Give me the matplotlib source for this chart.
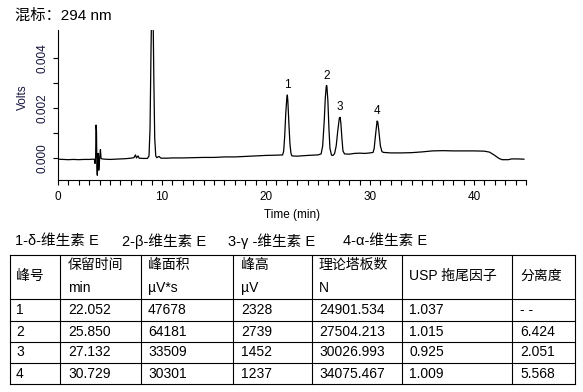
import numpy as np
import matplotlib
matplotlib.use('Agg')
import matplotlib.pyplot as plt
from matplotlib.ticker import MultipleLocator, FixedLocator

plt.rcParams['font.family'] = ['Liberation Sans', 'Noto Sans CJK SC', 'DejaVu Sans']

# ── 色谱数据 ──────────────────────────────────────────────────────
time_min = [
    0.0, 0.5, 1.0, 1.5, 2.0, 2.5, 3.0, 3.4,
    3.50, 3.56, 3.62, 3.66, 3.70, 3.74, 3.78, 3.82, 3.86, 3.92, 3.97, 4.02, 4.08, 4.14, 4.25,
    4.5, 5.0, 5.5, 6.0, 6.5, 7.0, 7.3, 7.45, 7.55, 7.7, 7.8, 8.2, 8.6,
    8.75, 8.85, 8.95, 9.0, 9.07, 9.15, 9.22, 9.3, 9.4, 9.5, 9.7, 9.9,
    10.5, 11, 12, 13, 14, 15, 16, 17, 18, 19, 20, 21, 21.6,
    21.7, 21.8, 21.9, 22.0, 22.05, 22.1, 22.2, 22.3, 22.4, 22.5,
    23, 24, 25, 25.3,
    25.45, 25.6, 25.7, 25.8, 25.85, 25.95, 26.05, 26.15, 26.3, 26.45,
    26.6, 26.75, 26.9, 27.05, 27.13, 27.2, 27.3, 27.4, 27.55,
    28, 28.5, 29, 29.5, 30, 30.3,
    30.4, 30.55, 30.68, 30.75, 30.85, 31.0, 31.15, 31.3,
    32, 33, 34, 35, 36, 37, 38, 39, 40, 41, 41.5, 42, 42.4, 42.7,
    43.3, 43.6, 44.2, 44.8,
]
volts = [
    -0.00003, -0.00004, -0.00005, -0.00004, -0.00005, -0.00004, -0.00004, -0.00003,
    -0.00004, -0.0002, 0.0001, 0.00133, 0.0011, -0.0003, -0.00067, 0.0001, 0.0002, -0.00047, -0.0002, 0.0001, 0.00035, 0.0, -0.00002,
    -0.00003, -0.00004, -0.00003, -0.00002, -0.00001, 0.00001, 0.00003, 0.00014, 0.00002, 0.0001, 0.00001, 0.0, 0.0,
    0.0001, 0.0012, 0.0045, 0.0058, 0.0065, 0.0055, 0.003, 0.0008, 0.0001, 0.00003, 0.00008, 0.00001,
    0.00001, 0.00002, 0.00002, 0.00003, 0.00004, 0.00004, 0.00006, 0.00006, 0.00008, 0.0001, 0.00012, 0.00013, 0.00014,
    0.0003, 0.0009, 0.0018, 0.0024, 0.00253, 0.0023, 0.0014, 0.0006, 0.0002, 0.0001,
    0.00009, 0.00012, 0.00014, 0.00018,
    0.0005, 0.0015, 0.0024, 0.0029, 0.0029, 0.0023, 0.0012, 0.0004, 0.00013, 0.00012,
    0.0002, 0.0005, 0.0011, 0.0016, 0.00164, 0.0014, 0.0008, 0.0003, 0.00018,
    0.00017, 0.0002, 0.00021, 0.0002, 0.00022, 0.00024,
    0.0004, 0.001, 0.00149, 0.00145, 0.0011, 0.0005, 0.00027, 0.00024,
    0.00022, 0.00022, 0.00023, 0.00026, 0.0003, 0.00031, 0.0003, 0.0003, 0.0003, 0.00029, 0.00025, 0.00012, 0.0, -0.00005,
    -0.00005, -0.00002, -0.00002, -0.00003,
]

# ── 峰标注 ──
peak_labels = ['1', '2', '3', '4']
peak_apex_t = [22.05, 25.85, 27.13, 30.72]
peak_apex_v = [0.00253, 0.0029, 0.00164, 0.00149]

# ── 表格数据 ──
legend_items = ['1-δ-维生素 E', '2-β-维生素 E', '3-γ -维生素 E', '4-α-维生素 E']
header_top = ['峰号', '保留时间', '峰面积', '峰高', '理论塔板数', 'USP 拖尾因子', '分离度']
header_unit = ['', 'min', 'µV*s', 'µV', 'N', '', '']
peak_no = [1, 2, 3, 4]
ret_time = [22.052, 25.850, 27.132, 30.729]
peak_area = [47678, 64181, 33509, 30301]
peak_height = [2328, 2739, 1452, 1237]
plates = [24901.534, 27504.213, 30026.993, 34075.467]
tailing = [1.037, 1.015, 0.925, 1.009]
resolution = [None, 6.424, 2.051, 5.568]

W, H = 583, 392
fig = plt.figure(figsize=(W / 100, H / 100), dpi=100, facecolor='white')

# ── 色谱图 ──
ax = fig.add_axes([58 / W, 1 - 180 / H, 468 / W, 150 / H])
ax.plot(time_min, volts, color='black', lw=0.9)
ax.set_xlim(0, 45)
ax.set_ylim(-0.00086, 0.00512)
for s in ('top', 'right'):
    ax.spines[s].set_visible(False)
ax.spines['left'].set_linewidth(0.8)
ax.spines['bottom'].set_linewidth(0.8)

ax.xaxis.set_major_locator(MultipleLocator(10))
ax.xaxis.set_minor_locator(MultipleLocator(1))
ax.yaxis.set_major_locator(FixedLocator([0.0, 0.002, 0.004]))
ax.yaxis.set_minor_locator(FixedLocator([0.001, 0.003]))
ax.set_yticklabels(['0.000', '0.002', '0.004'], rotation=90, va='center',
                   color='#14143c')
ax.tick_params(axis='both', which='both', direction='out', length=3.5,
               width=0.8, labelsize=8.5)
ax.tick_params(axis='x', pad=4.5)
ax.tick_params(axis='y', pad=3.5)
ax.set_xlabel('Time (min)', fontsize=8.5, labelpad=4)
ax.set_ylabel('Volts', fontsize=8.5, color='#14143c')
ax.yaxis.set_label_coords(-0.062, 0.55)

for lab, t, v in zip(peak_labels, peak_apex_t, peak_apex_v):
    ax.annotate(lab, (t, v), xytext=(0, 3), textcoords='offset points',
                ha='center', va='bottom', fontsize=8.5)

# ── 覆盖层 (像素坐标): 标题 + 表格 ──
tax = fig.add_axes([0, 0, 1, 1])
tax.set_xlim(0, W)
tax.set_ylim(H, 0)
tax.axis('off')
tax.patch.set_alpha(0)

tax.text(15, 16, '混标：294 nm', fontsize=11, va='center', ha='left')
for item, x in zip(legend_items, [15, 122, 228, 343]):
    tax.text(x, 241, item, fontsize=10.5, va='center', ha='left')

col_x = [10, 60, 141, 233, 312, 402, 512, 575]
row_y = [255, 299, 321, 342, 363, 384]
for x in col_x:
    tax.plot([x, x], [row_y[0], row_y[-1]], color='black', lw=0.8)
for y in row_y:
    tax.plot([col_x[0], col_x[-1]], [y, y], color='black', lw=0.8)

pads = [6, 8, 7, 8, 7, 7, 8]
for i, (top, unit) in enumerate(zip(header_top, header_unit)):
    x = col_x[i] + pads[i]
    if unit:
        tax.text(x, 265, top, fontsize=10, va='center')
        tax.text(x, 288, unit, fontsize=10, va='center')
    else:
        tax.text(x, 276, top, fontsize=10, va='center')

rows = []
for k in range(len(peak_no)):
    rows.append([
        str(peak_no[k]),
        f'{ret_time[k]:.3f}',
        str(peak_area[k]),
        str(peak_height[k]),
        f'{plates[k]:.3f}',
        f'{tailing[k]:.3f}',
        '- -' if resolution[k] is None else f'{resolution[k]:.3f}',
    ])
for r, row in enumerate(rows):
    yc = (row_y[r + 1] + row_y[r + 2]) / 2
    for i, val in enumerate(row):
        tax.text(col_x[i] + pads[i], yc, val, fontsize=10, va='center')

fig.savefig('out.png', dpi=100)
